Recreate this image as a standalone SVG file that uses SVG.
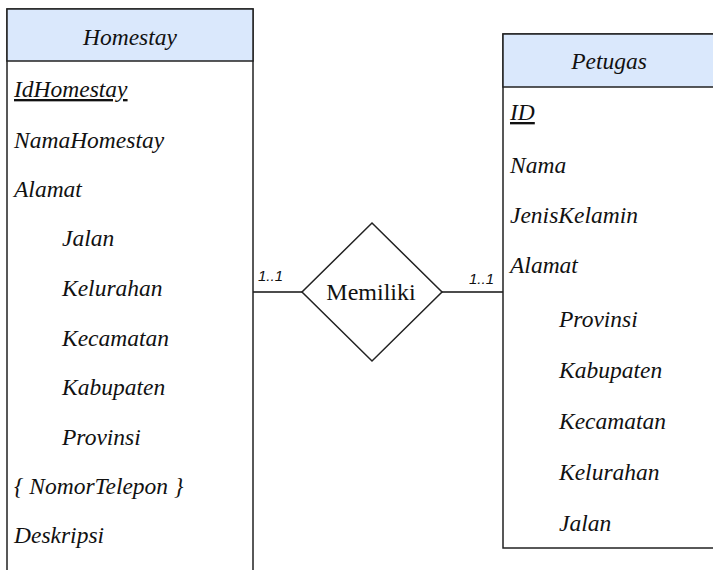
<svg xmlns="http://www.w3.org/2000/svg" width="713" height="570" viewBox="0 0 713 570">
  <style>
    .box { fill: #ffffff; stroke: #222222; stroke-width: 1.5; }
    .head { fill: #dae8fc; stroke: #222222; stroke-width: 1.5; }
    .line { stroke: #111111; stroke-width: 1.5; fill: none; }
  </style>

  <g id="connectors">
    <line class="line" x1="253" y1="292" x2="302" y2="292"/>
    <line class="line" x1="442" y1="292" x2="503" y2="292"/>
    <g font-family="Liberation Sans" font-style="italic" font-size="15" fill="#111111">
      <text x="258" y="281">1..1</text>
      <text x="469" y="284">1..1</text>
    </g>
  </g>

  <g id="homestay">
    <rect class="box" x="7" y="9" width="246" height="580"/>
    <rect class="head" x="7" y="9" width="246" height="52"/>
    <g font-family="Liberation Serif" font-style="italic" font-size="23.5" fill="#111111">
      <text x="130" y="45" text-anchor="middle">Homestay</text>
      <text x="14" y="97" text-decoration="underline">IdHomestay</text>
      <text x="14" y="148">NamaHomestay</text>
      <text x="14" y="197">Alamat</text>
      <text x="62" y="246">Jalan</text>
      <text x="62" y="296">Kelurahan</text>
      <text x="62" y="346">Kecamatan</text>
      <text x="62" y="395">Kabupaten</text>
      <text x="62" y="445">Provinsi</text>
      <text x="14" y="494">{ NomorTelepon }</text>
      <text x="14" y="543">Deskripsi</text>
    </g>
  </g>

  <g id="memiliki">
    <polygon class="box" points="372,223 442,292 372,361 302,292"/>
    <text x="371" y="300" text-anchor="middle" font-family="Liberation Serif" font-size="24" fill="#111111">Memiliki</text>
  </g>

  <g id="petugas">
    <rect class="box" x="503" y="34" width="230" height="514"/>
    <rect class="head" x="503" y="34" width="230" height="53"/>
    <g font-family="Liberation Serif" font-style="italic" font-size="23.5" fill="#111111">
      <text x="609" y="69" text-anchor="middle">Petugas</text>
      <text x="510" y="120" text-decoration="underline">ID</text>
      <text x="510" y="173">Nama</text>
      <text x="510" y="223">JenisKelamin</text>
      <text x="510" y="273">Alamat</text>
      <text x="559" y="327">Provinsi</text>
      <text x="559" y="378">Kabupaten</text>
      <text x="559" y="429">Kecamatan</text>
      <text x="559" y="480">Kelurahan</text>
      <text x="559" y="531">Jalan</text>
    </g>
  </g>
</svg>
